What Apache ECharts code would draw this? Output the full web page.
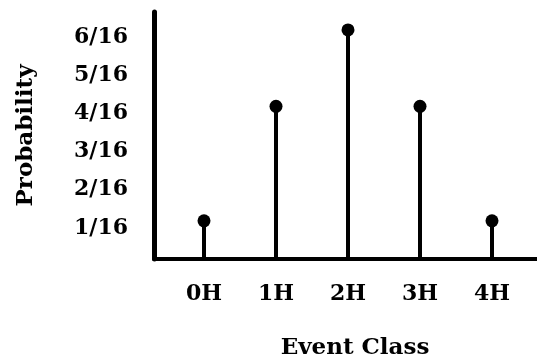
<!DOCTYPE html>
<html lang="en">

<head>
  <meta charset="UTF-8">
  <title>Event Class</title>
  <style>
    html, body { margin: 0; padding: 0; background: #fff; }
    #main { width: 537px; height: 360px; }
  </style>
</head>

<body>
  <div id="main"></div>
  <script src="https://cdn.jsdelivr.net/npm/echarts@6/dist/echarts.min.js"></script>
  <script>
    // data, in sixteenths
    var categories = ['0H', '1H', '2H', '3H', '4H'];
    var sixteenths = [1, 4, 6, 4, 1];

    var yMax = 6.47;
    var font = '"DejaVu Serif", "Liberation Serif", serif';

    var myChart = echarts.init(document.getElementById('main'));

    var option = {
      backgroundColor: '#fff',
      animation: false,
      grid: [
        // frame with the axis lines and y labels
        { left: 154, right: 0, top: 12, bottom: 101, outerBoundsMode: 'none' },
        // data area, categories spaced like the original
        { left: 168, right: 9, top: 12, bottom: 101, outerBoundsMode: 'none' }
      ],
      xAxis: [{
        gridIndex: 0,
        type: 'value',
        min: 0,
        max: 1,
        axisLine: { show: true, lineStyle: { color: '#000', width: 4 } },
        axisTick: { show: false },
        axisLabel: { show: false },
        splitLine: { show: false }
      }, {
        gridIndex: 1,
        type: 'category',
        data: categories,
        axisLine: { show: false },
        axisTick: { show: false },
        axisLabel: {
          margin: 24,
          color: '#000',
          fontFamily: font,
          fontWeight: 'bold',
          fontSize: 22
        },
        name: 'Event Class',
        nameLocation: 'middle',
        nameGap: 78,
        nameTextStyle: {
          color: '#000',
          fontFamily: font,
          fontWeight: 'bold',
          fontSize: 23,
          padding: [0, 0, 0, 14]
        }
      }],
      yAxis: [{
        gridIndex: 0,
        type: 'value',
        min: 0,
        max: yMax,
        interval: 1,
        axisLine: { show: true, lineStyle: { color: '#000', width: 5 } },
        axisTick: { show: false },
        splitLine: { show: false },
        axisLabel: {
          margin: 26,
          color: '#000',
          fontFamily: font,
          fontWeight: 'bold',
          fontSize: 22,
          verticalAlign: 'top',
          lineHeight: 14,
          formatter: function (v) {
            return v >= 1 && v <= 6 ? v + '/16' : '';
          }
        },
        name: 'Probability',
        nameLocation: 'middle',
        nameGap: 116,
        nameRotate: 90,
        nameTextStyle: {
          color: '#000',
          fontFamily: font,
          fontWeight: 'bold',
          fontSize: 23
        }
      }, {
        gridIndex: 1,
        type: 'value',
        min: 0,
        max: yMax,
        show: false
      }],
      series: [{
        name: 'stem',
        type: 'bar',
        xAxisIndex: 1,
        yAxisIndex: 1,
        barWidth: 4,
        itemStyle: { color: '#000' },
        data: sixteenths
      }, {
        name: 'dot',
        type: 'scatter',
        xAxisIndex: 1,
        yAxisIndex: 1,
        symbol: 'circle',
        symbolSize: 13,
        itemStyle: { color: '#000', opacity: 1 },
        data: sixteenths
      }]
    };

    myChart.setOption(option);
  </script>
</body>

</html>
